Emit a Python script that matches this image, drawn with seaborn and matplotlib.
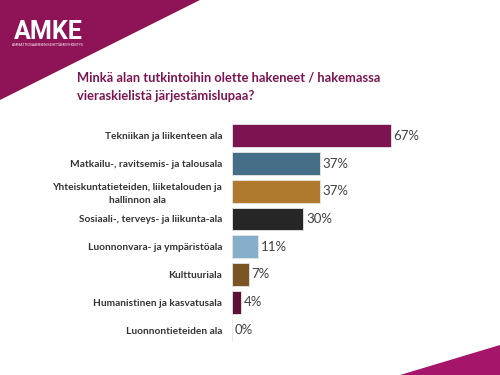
import matplotlib
matplotlib.use("Agg")
import matplotlib.pyplot as plt
import seaborn as sns
import pandas as pd
from matplotlib.patches import Polygon

# data
categories = [
    "Tekniikan ja liikenteen ala",
    "Matkailu-, ravitsemis- ja talousala",
    "Yhteiskuntatieteiden, liiketalouden ja\nhallinnon ala",
    "Sosiaali-, terveys- ja liikunta-ala",
    "Luonnonvara- ja ympäristöala",
    "Kulttuuriala",
    "Humanistinen ja kasvatusala",
    "Luonnontieteiden ala",
]
values = [67, 37, 37, 30, 11, 7, 4, 0]
colors = ["#7B1450", "#456E87", "#B07A2E", "#262626",
          "#86AECA", "#7A5523", "#5E1038", "#5E1038"]

title = "Minkä alan tutkintoihin olette hakeneet / hakemassa\nvieraskielistä järjestämislupaa?"

sns.set_theme(style="white")
plt.rcParams['font.family'] = ['Lato', 'DejaVu Sans']

df = pd.DataFrame({"ala": categories, "osuus": values})

fig = plt.figure(figsize=(5, 3.75), dpi=100, facecolor="white")

# decorative corners
bg = fig.add_axes([0, 0, 1, 1])
bg.set_xlim(0, 500)
bg.set_ylim(375, 0)
bg.axis("off")
bg.add_patch(Polygon([(0, 0), (200, 0), (0, 100)], closed=True, color="#8E1457", lw=0))
bg.add_patch(Polygon([(400, 375), (500, 345), (500, 375)], closed=True, color="#A5166A", lw=0))
bg.text(14, 39, "AMKE", color="white", fontsize=18, fontweight="bold",
        family="Roboto", va="baseline", ha="left")
bg.text(12, 46, "AMMATTIOSAAMISEN KEHITTÄMISYHDISTYS", color="white", fontsize=2.4,
        va="baseline", ha="left")
bg.text(77, 100, title, color="#7B1450", fontsize=9.3, fontweight="bold",
        va="baseline", ha="left", linespacing=1.6)

ax = fig.add_axes([0.464, 0.083, 0.474, 0.592])
sns.barplot(data=df, x="osuus", y="ala", hue="ala", palette=colors, legend=False,
            saturation=1, width=0.82, edgecolor="#e6e6e6", linewidth=0.6, ax=ax)
ax.set_xlim(0, 100)
ax.set_ylim(7.5, -0.5)
ax.set_xlabel("")
ax.set_ylabel("")
ax.set_xticks([])
sns.despine(ax=ax, left=True, bottom=True)
ax.set_facecolor("none")
ax.tick_params(axis="y", length=0, pad=7)
for lab in ax.get_yticklabels():
    lab.set_fontsize(7.3)
    lab.set_fontweight("bold")
    lab.set_color("#333333")
    lab.set_multialignment("center")
    lab.set_linespacing(1.5)

for i, v in enumerate(values):
    ax.text(v + 1.2, i, f"{v}%", va="center", ha="left", fontsize=9.5, color="#404040")

fig.savefig("out.png", dpi=100)
